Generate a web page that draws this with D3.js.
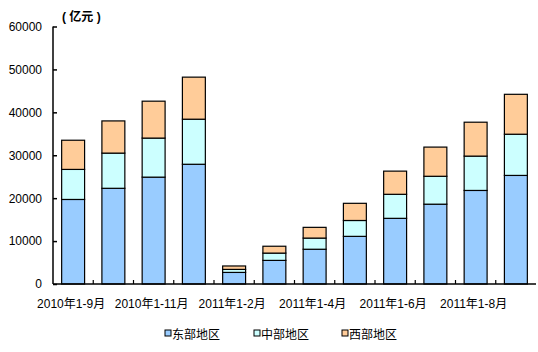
<!DOCTYPE html>
<html><head><meta charset="utf-8">
<script src="https://cdn.jsdelivr.net/npm/d3@7"></script>
<style>
body{margin:0;background:#fff;}
text{font-family:Arial,"Liberation Sans","Noto Sans CJK SC",sans-serif;}
</style></head>
<body><svg id="c" width="538" height="352"></svg>
<script>
const categories = ["2010年1-9月","2010年1-10月","2010年1-11月","2010年1-12月","2011年1-2月","2011年1-3月","2011年1-4月","2011年1-5月","2011年1-6月","2011年1-7月","2011年1-8月","2011年1-9月"];
const seriesNames = ["东部地区","中部地区","西部地区"];
const east  = [19700,22300,24900,27900,2700,5500,8100,11100,15300,18600,21800,25300];
const mid   = [7000,8200,9100,10500,700,1700,2600,3700,5600,6500,8000,9600];
const west  = [6800,7500,8600,9800,800,1600,2500,4000,5400,6800,7900,9300];
const yTicks = [0,10000,20000,30000,40000,50000,60000];
const colors = ["#99CCFF","#CCFFFF","#FFCC99"];

const svg = d3.select("#c");
const x0 = 53, x1 = 536, yBase = 284, yTop = 26.5;
const x = d3.scaleBand().domain(categories).range([x0,x1]).paddingInner(0.43).paddingOuter(0.215);
const y = d3.scaleLinear().domain([0,60000]).range([yBase,yTop]);

const rows = categories.map((c,i)=>({cat:c, "东部地区":east[i], "中部地区":mid[i], "西部地区":west[i]}));
const stack = d3.stack().keys(seriesNames)(rows);

svg.append("g").selectAll("g").data(stack).join("g")
  .attr("fill",(d,i)=>colors[i])
  .selectAll("rect").data(d=>d).join("rect")
  .attr("x",d=>x(d.data.cat)).attr("width",x.bandwidth())
  .attr("y",d=>y(d[1])).attr("height",d=>y(d[0])-y(d[1]))
  .attr("stroke","#000").attr("stroke-width",1.2);

// Y axis
const yAxis = d3.axisLeft(y).tickValues(yTicks).tickSize(-4).tickPadding(11).tickFormat(d3.format("d"));
const gy = svg.append("g").attr("transform",`translate(${x0},0)`).call(yAxis);
gy.select(".domain").attr("stroke","#000").attr("stroke-width",1.5).attr("d",`M0,${yTop}V${yBase}`);
gy.selectAll("line").attr("stroke","#000").attr("stroke-width",1.5);
gy.selectAll("text").attr("font-size",12).attr("fill","#000");

// X axis line with inward ticks at band boundaries
const step = x.step();
const bounds = d3.range(1,12).map(k=>x0+k*step);
svg.append("line").attr("x1",x0).attr("x2",x1).attr("y1",yBase).attr("y2",yBase).attr("stroke","#000").attr("stroke-width",1.5);
svg.append("g").selectAll("line").data(bounds).join("line")
  .attr("x1",d=>d).attr("x2",d=>d).attr("y1",yBase).attr("y2",yBase-4).attr("stroke","#000").attr("stroke-width",1.2);

// X labels every other
svg.append("g").selectAll("text").data(categories.filter((c,i)=>i%2===0)).join("text")
  .attr("x",d=>x(d)+x.bandwidth()/2-2).attr("y",308).attr("text-anchor","middle")
  .attr("font-size",12).attr("fill","#000").text(d=>d);

// Unit label
svg.append("text").attr("x",62).attr("y",21).attr("font-size",12).attr("font-weight","bold").attr("fill","#000").text("( 亿元 )");

// Legend
const legX = [165,254,342];
const lg = svg.append("g").selectAll("g").data(seriesNames).join("g")
  .attr("transform",(d,i)=>`translate(${legX[i]},330)`);
lg.append("rect").attr("x",0).attr("y",0).attr("width",6).attr("height",6)
  .attr("fill",(d,i)=>colors[i]).attr("stroke","#000").attr("stroke-width",1);
lg.append("text").attr("x",7).attr("y",8.5).attr("font-size",12).attr("fill","#000").text(d=>d);
</script></body></html>
